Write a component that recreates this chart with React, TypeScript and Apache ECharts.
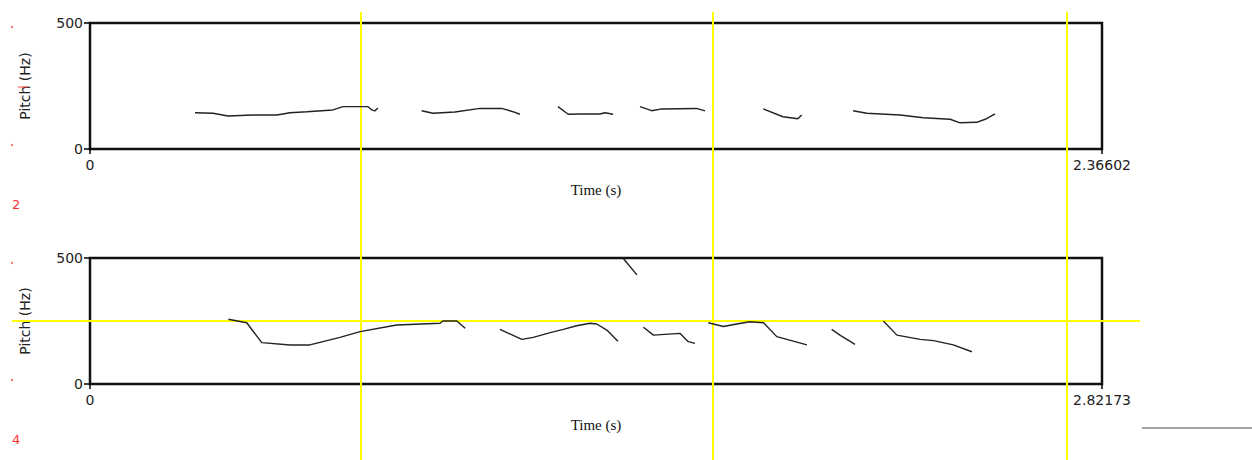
import React, { useEffect, useRef } from "react";
import * as echarts from "echarts";

// Time (s) / pitch (Hz) contours; segments separated by null gaps
const topMax = 2.36602;
const bottomMax = 2.82173;
const yTicks = [0, 500];

const topSeg1: [number, number][] = [[0.2455, 144], [0.2876, 142], [0.3227, 131], [0.381, 135], [0.437, 135], [0.4676, 144], [0.507, 148], [0.568, 155], [0.5915, 168], [0.65, 168], [0.659, 155], [0.666, 151], [0.673, 163]];
const topSeg2: [number, number][] = [[0.7755, 152], [0.802, 142], [0.853, 147], [0.912, 161], [0.9626, 161], [0.989, 148], [1.005, 138]];
const topSeg3: [number, number][] = [[1.094, 168], [1.118, 138], [1.146, 139], [1.192, 139], [1.204, 144], [1.223, 138]];
const topSeg4: [number, number][] = [[1.286, 168], [1.313, 152], [1.337, 159], [1.418, 161], [1.438, 151]];
const topSeg5: [number, number][] = [[1.574, 159], [1.62, 128], [1.655, 120], [1.664, 135]];
const topSeg6: [number, number][] = [[1.784, 152], [1.816, 142], [1.894, 135], [1.948, 124], [2.011, 118], [2.034, 104], [2.073, 106], [2.093, 118], [2.116, 139]];

const botSegA: [number, number][] = [[0.3857, 257], [0.437, 243], [0.479, 164], [0.558, 155], [0.613, 155], [0.697, 185], [0.753, 208], [0.855, 234], [0.976, 241], [0.984, 250], [1.023, 250], [1.046, 221]];
const botSegB: [number, number][] = [[1.143, 217], [1.204, 177], [1.236, 185], [1.283, 204], [1.32, 217], [1.357, 231], [1.394, 241], [1.413, 238], [1.441, 214], [1.472, 170]];
const botSegC: [number, number][] = [[1.487, 498], [1.525, 433]];
const botSegD: [number, number][] = [[1.543, 225], [1.571, 194], [1.645, 201], [1.668, 168], [1.687, 161]];
const botSegE: [number, number][] = [[1.724, 243], [1.766, 228], [1.803, 238], [1.84, 247], [1.878, 243], [1.915, 188], [1.943, 177], [1.999, 155]];
const botSegF: [number, number][] = [[2.068, 217], [2.091, 194], [2.133, 157]];
const botSegG: [number, number][] = [[2.212, 250], [2.25, 194], [2.315, 177], [2.352, 172], [2.407, 155], [2.459, 128]];

const joinSegs = (segs: [number, number][][]) => {
  const out: any[] = [];
  segs.forEach((s, i) => {
    if (i > 0) out.push([null, null]);
    s.forEach((p) => out.push(p));
  });
  return out;
};

export default function App() {
  const ref = useRef<HTMLDivElement>(null);
  useEffect(() => {
    if (!ref.current) return;
    const chart = echarts.init(ref.current, undefined, { renderer: "svg" });
    const numFont = { fontFamily: "DejaVu Sans", fontSize: 14, color: "#222" };
    const mkX = (idx: number, max: number) => ({
      type: "value",
      gridIndex: idx,
      min: 0,
      max,
      name: "Time (s)",
      nameLocation: "middle",
      nameGap: 33,
      nameTextStyle: { fontFamily: "Liberation Serif", fontSize: 15, color: "#111" },
      axisLine: { show: false },
      splitLine: { show: false },
      axisTick: { show: true, customValues: [0, max], length: 5, lineStyle: { color: "#000", width: 1.5 } },
      axisLabel: {
        ...numFont,
        customValues: [0, max],
        margin: 9,
        formatter: (v: number) => (v === 0 ? "0" : String(max)),
      },
    });
    const mkY = (idx: number) => ({
      type: "value",
      gridIndex: idx,
      min: 0,
      max: 500,
      name: "Pitch (Hz)",
      nameLocation: "middle",
      nameRotate: 90,
      nameGap: 58,
      nameTextStyle: { fontFamily: "DejaVu Sans", fontSize: 14, color: "#222" },
      axisLine: { show: false },
      splitLine: { show: false },
      axisTick: { show: true, customValues: yTicks, length: 6, lineStyle: { color: "#000", width: 1.5 } },
      axisLabel: { ...numFont, customValues: yTicks, margin: 7 },
    });
    const lineStyle = { color: "#222", width: 1.4 };
    const yellow = { stroke: "#ffff00", lineWidth: 2 };
    chart.setOption({
      animation: false,
      backgroundColor: "#fff",
      grid: [
        { left: 90, right: 150, top: 23, height: 126, show: true, borderColor: "#111", borderWidth: 2.5, backgroundColor: "transparent" },
        { left: 90, right: 150, top: 258, height: 126, show: true, borderColor: "#111", borderWidth: 2.5, backgroundColor: "transparent" },
      ],
      xAxis: [mkX(0, topMax), mkX(1, bottomMax)],
      yAxis: [mkY(0), mkY(1)],
      series: [
        {
          type: "line", xAxisIndex: 0, yAxisIndex: 0, showSymbol: false, symbol: "none", connectNulls: false, z: 5,
          lineStyle, data: joinSegs([topSeg1, topSeg2, topSeg3, topSeg4, topSeg5, topSeg6]),
        },
        {
          type: "line", xAxisIndex: 1, yAxisIndex: 1, showSymbol: false, symbol: "none", connectNulls: false, z: 5,
          lineStyle, data: joinSegs([botSegA, botSegB, botSegC, botSegD, botSegE, botSegF, botSegG]),
        },
      ],
      graphic: [
        { type: "line", z: 1, shape: { x1: 361, y1: 12, x2: 361, y2: 460 }, style: yellow },
        { type: "line", z: 1, shape: { x1: 713, y1: 12, x2: 713, y2: 460 }, style: yellow },
        { type: "line", z: 1, shape: { x1: 1067, y1: 12, x2: 1067, y2: 460 }, style: yellow },
        { type: "line", z: 1, shape: { x1: 12, y1: 321, x2: 1140, y2: 321 }, style: yellow },
        { type: "line", z: 1, shape: { x1: 1142, y1: 428, x2: 1252, y2: 428 }, style: { stroke: "#444", lineWidth: 1 } },
        { type: "circle", z: 1, shape: { cx: 12, cy: 27, r: 1 }, style: { fill: "#f55" } },
        { type: "line", z: 1, shape: { x1: 18, y1: 87, x2: 28, y2: 87 }, style: { stroke: "#f44", lineWidth: 1 } },
        { type: "circle", z: 1, shape: { cx: 12, cy: 145, r: 1 }, style: { fill: "#f55" } },
        { type: "text", z: 1, x: 12, y: 204, style: { text: "2", fill: "#f33", font: "13px DejaVu Sans", verticalAlign: "middle" } },
        { type: "circle", z: 1, shape: { cx: 12, cy: 263, r: 1 }, style: { fill: "#f55" } },
        { type: "circle", z: 1, shape: { cx: 12, cy: 380, r: 1 }, style: { fill: "#f55" } },
        { type: "text", z: 1, x: 12, y: 439, style: { text: "4", fill: "#f33", font: "13px DejaVu Sans", verticalAlign: "middle" } },
      ],
    });
    return () => chart.dispose();
  }, []);
  return <div ref={ref} style={{ position: "fixed", left: 0, top: 0, width: 1252, height: 460 }} />;
}
